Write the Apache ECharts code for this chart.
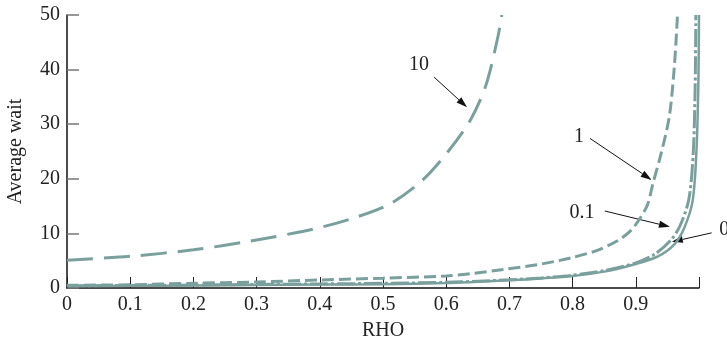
<!DOCTYPE html>
<html lang="en">
<head>
<meta charset="UTF-8">
<script src="https://cdn.jsdelivr.net/npm/echarts@6/dist/echarts.min.js"></script>
<title>Average wait vs RHO</title>
<style>
  html, body { margin: 0; padding: 0; background: #fff; }
  #chart { width: 727px; height: 343px; }
</style>
</head>
<body>
<div id="chart"></div>
<script>
// curve "10" (long dash)
var rho10  = [0, 0.1, 0.2, 0.29, 0.39, 0.453, 0.511, 0.561, 0.603, 0.639, 0.663, 0.682, 0.688];
var wait10 = [5.1, 5.8, 7.0, 8.6, 10.8, 12.8, 15.4, 19.6, 25.0, 30.9, 37.2, 46.1, 50];
// curve "1" (short dash)
var rho1  = [0, 0.1, 0.2, 0.3, 0.4, 0.5, 0.6, 0.638, 0.691, 0.744, 0.797, 0.839, 0.871, 0.892, 0.908, 0.919, 0.927, 0.94, 0.953, 0.961, 0.966];
var wait1 = [0.5, 0.6, 0.87, 1.1, 1.47, 1.8, 2.2, 2.6, 3.4, 4.27, 5.5, 6.9, 8.65, 10.5, 13.0, 15.4, 19.1, 24.6, 31.4, 40.6, 50];
// curve "0.1" (dash-dot)
var rho01  = [0, 0.1, 0.2, 0.3, 0.4, 0.5, 0.6, 0.65, 0.7, 0.75, 0.8, 0.85, 0.9, 0.93, 0.955, 0.97, 0.984, 0.991, 0.994, 0.995];
var wait01 = [0.4, 0.47, 0.55, 0.65, 0.75, 0.85, 1.05, 1.25, 1.5, 1.85, 2.35, 3.2, 4.6, 6.2, 8.7, 11.4, 16.3, 25, 37.5, 50];
// curve "0" (solid)
var rho0  = [0, 0.1, 0.2, 0.3, 0.4, 0.5, 0.6, 0.65, 0.7, 0.75, 0.8, 0.85, 0.9, 0.935, 0.961, 0.977, 0.99, 0.996, 0.999, 1.0];
var wait0 = [0.35, 0.4, 0.45, 0.55, 0.62, 0.7, 0.9, 1.15, 1.4, 1.75, 2.2, 3.0, 4.4, 5.8, 8.0, 11.1, 16.0, 25.2, 37.5, 50];

var yTicks = [0, 10, 20, 30, 40, 50];
var xTickLabels = ['0', '0.1', '0.2', '0.3', '0.4', '0.5', '0.6', '0.7', '0.8', '0.9', ''];

// annotation labels and arrows (data coords)
var labelNames = ['10', '1', '0.1', '0'];
var labelAt   = [[0.557, 40.9], [0.81, 27.7], [0.815, 13.7], [1.04, 10.6]];
var arrowFrom = [[0.581, 38.6], [0.8275, 27.4], [0.851, 14.1], [1.02, 10.1]];
var arrowTo   = [[0.633, 33.1], [0.925, 19.8], [0.954, 11.2], [0.957, 8.45]];

var lineColor = '#7aa09e';
var font = '"Liberation Serif", "DejaVu Serif", serif';

function pairs(xs, ys) {
    var res = [];
    for (var i = 0; i < xs.length; i++) res.push([xs[i], ys[i]]);
    return res;
}

function curve(xs, ys, dash, width) {
    return {
        type: 'line',
        data: pairs(xs, ys),
        showSymbol: false,
        smooth: 0.3,
        animation: false,
        lineStyle: { color: lineColor, width: width, type: dash },
        itemStyle: { color: lineColor },
        emphasis: { disabled: true }
    };
}

var chart = echarts.init(document.getElementById('chart'), null, { renderer: 'canvas' });
chart.setOption({
    backgroundColor: '#fff',
    animation: false,
    grid: { left: 67, right: 28, top: 15, bottom: 55, containLabel: false, outerBoundsMode: 'none' },
    xAxis: {
        type: 'value', min: 0, max: 1, interval: 0.1,
        name: 'RHO', nameLocation: 'middle', nameGap: 33,
        nameTextStyle: { fontFamily: font, fontSize: 20, color: '#222' },
        axisLine: { lineStyle: { color: '#111', width: 1.5 } },
        axisTick: { inside: true, length: 11, lineStyle: { color: '#222', width: 1 } },
        axisLabel: {
            margin: 7, fontFamily: font, fontSize: 20, color: '#222',
            formatter: function (v) { return xTickLabels[Math.round(v * 10)]; }
        },
        splitLine: { show: false }
    },
    yAxis: {
        type: 'value', min: yTicks[0], max: yTicks[yTicks.length - 1], interval: 10,
        name: 'Average wait', nameLocation: 'middle', nameGap: 41, nameRotate: 90,
        nameTextStyle: { fontFamily: font, fontSize: 20, color: '#222' },
        axisLine: { show: true, lineStyle: { color: '#111', width: 1.5 } },
        axisTick: { show: true, inside: true, length: 12, lineStyle: { color: '#777', width: 1.5 } },
        axisLabel: { margin: 7, fontFamily: font, fontSize: 20, color: '#222' },
        splitLine: { show: false }
    },
    series: [
        curve(rho10, wait10, [26, 11], 3),
        curve(rho1, wait1, [12, 5], 3),
        curve(rho01, wait01, [18, 3, 3, 3], 3),
        curve(rho0, wait0, 'solid', 2.5)
    ]
});

// arrows and labels, placed through the chart's own axes
var els = [];
for (var i = 0; i < labelNames.length; i++) {
    var a = chart.convertToPixel({ gridIndex: 0 }, arrowFrom[i]);
    var b = chart.convertToPixel({ gridIndex: 0 }, arrowTo[i]);
    var dx = b[0] - a[0], dy = b[1] - a[1];
    var len = Math.sqrt(dx * dx + dy * dy);
    var ux = dx / len, uy = dy / len;
    var hl = 11, hw = 3.5;
    var base = [b[0] - ux * hl, b[1] - uy * hl];
    els.push({
        type: 'line', silent: true,
        shape: { x1: a[0], y1: a[1], x2: base[0], y2: base[1] },
        style: { stroke: '#111', lineWidth: 1 }
    });
    els.push({
        type: 'polygon', silent: true,
        shape: { points: [b, [base[0] - uy * hw, base[1] + ux * hw], [base[0] + uy * hw, base[1] - ux * hw]] },
        style: { fill: '#111' }
    });
    var t = chart.convertToPixel({ gridIndex: 0 }, labelAt[i]);
    els.push({
        type: 'text', silent: true, x: t[0], y: t[1],
        style: { text: labelNames[i], font: '20px ' + font, fill: '#222', align: 'center', verticalAlign: 'middle' }
    });
}
chart.setOption({ graphic: els });
</script>
</body>
</html>
